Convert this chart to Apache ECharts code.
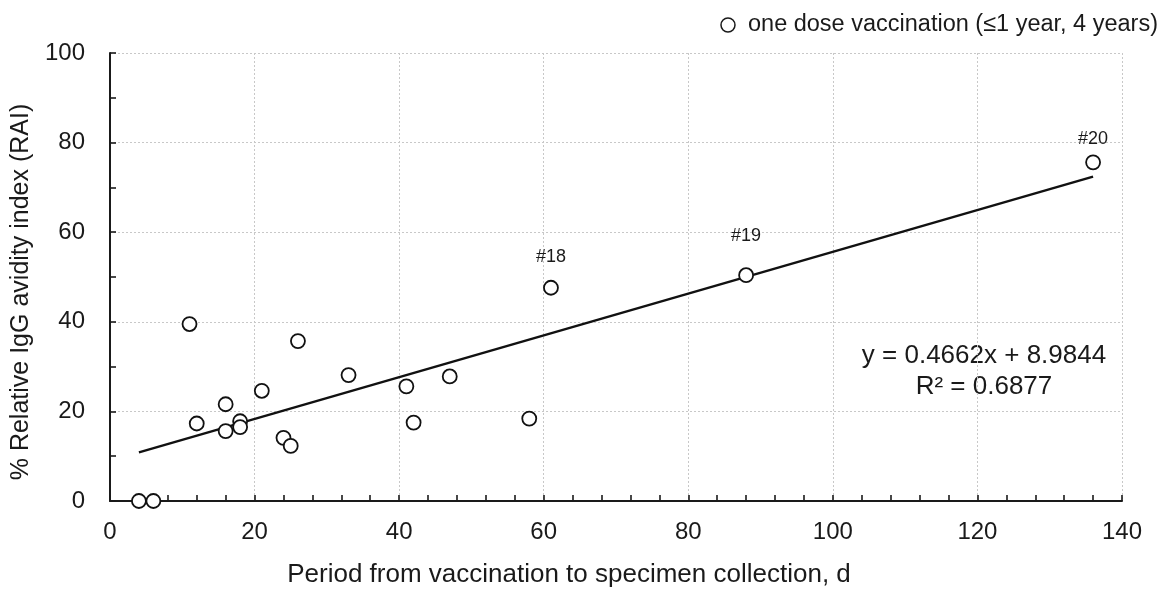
<!DOCTYPE html>
<html>
<head>
<meta charset="utf-8">
<script src="https://cdn.jsdelivr.net/npm/echarts@6/dist/echarts.min.js"></script>
<style>
html,body{margin:0;padding:0;background:#fff;}
#chart{width:1166px;height:598px;}
</style>
</head>
<body>
<div id="chart"></div>
<script>
// Data
const periodDays = [4, 6, 11, 12, 16, 16, 18, 18, 21, 24, 25, 26, 33, 41, 42, 47, 58, 61, 88, 136];
const raiValues  = [0, 0, 39.5, 17.3, 21.6, 15.6, 17.8, 16.5, 24.6, 14.1, 12.3, 35.7, 28.1, 25.6, 17.5, 27.8, 18.4, 47.6, 50.4, 75.6];
const pointLabels = ['', '', '', '', '', '', '', '', '', '', '', '', '', '', '', '', '', '#18', '#19', '#20'];
const trendX = [4, 136];
const trendY = [10.85, 72.39];
const xTicks = [0, 20, 40, 60, 80, 100, 120, 140];
const yTicks = [0, 20, 40, 60, 80, 100];
const seriesName = 'one dose vaccination (\u22641 year, 4 years)';
const equationText = 'y = 0.4662x + 8.9844';
const r2Text = 'R\u00b2 = 0.6877';

// Style only: label gaps above the annotated points
const labelGap = {'#18': 14, '#19': 22, '#20': 6};

const FONT = 'Liberation Sans, Arial, sans-serif';
const INK = '#1a1a1a';
const chart = echarts.init(document.getElementById('chart'), null, {renderer: 'canvas'});

const scatterData = periodDays.map((x, i) => {
  const item = {value: [x, raiValues[i]], name: pointLabels[i]};
  if (pointLabels[i]) item.label = {distance: labelGap[pointLabels[i]]};
  return item;
});

chart.setOption({
  animation: false,
  backgroundColor: '#fff',
  textStyle: {fontFamily: FONT, color: INK},
  grid: {left: 110, right: 44, top: 53, bottom: 97, containLabel: false},
  legend: {
    data: [seriesName],
    right: 3, top: 8,
    icon: 'circle',
    itemWidth: 14, itemHeight: 14,
    textStyle: {fontSize: 23.5, color: INK, fontFamily: FONT, padding: [0, 0, 0, 8]},
    itemStyle: {color: '#fff', borderColor: INK, borderWidth: 1.5}
  },
  xAxis: {
    type: 'value',
    min: xTicks[0], max: xTicks[xTicks.length - 1], interval: xTicks[1] - xTicks[0],
    name: 'Period from vaccination to specimen collection, d',
    nameLocation: 'middle', nameGap: 61,
    nameTextStyle: {fontSize: 26, color: INK, fontFamily: FONT, padding: [0, 94, 0, 0]},
    axisLine: {show: true, lineStyle: {color: INK, width: 2}},
    axisTick: {show: true, inside: true, length: 6, lineStyle: {color: INK, width: 1.6}},
    minorTick: {show: true, splitNumber: 5, length: 6, lineStyle: {color: INK, width: 1.6}},
    axisLabel: {fontSize: 24, color: INK, margin: 19, fontFamily: FONT},
    splitLine: {show: true, lineStyle: {color: '#c8c8c8', type: [2, 2], width: 1}}
  },
  yAxis: {
    type: 'value',
    min: yTicks[0], max: yTicks[yTicks.length - 1], interval: yTicks[1] - yTicks[0],
    name: '% Relative IgG avidity index (RAI)',
    nameLocation: 'middle', nameGap: 68, nameRotate: 90,
    nameTextStyle: {fontSize: 25, color: INK, fontFamily: FONT, padding: [0, 30, 0, 0]},
    axisLine: {show: true, lineStyle: {color: INK, width: 2}},
    axisTick: {show: true, inside: true, length: 6, lineStyle: {color: INK, width: 1.6}},
    minorTick: {show: true, splitNumber: 2, length: 6, lineStyle: {color: INK, width: 1.6}},
    axisLabel: {fontSize: 24, color: INK, margin: 25, fontFamily: FONT},
    splitLine: {show: true, lineStyle: {color: '#c8c8c8', type: [2, 2], width: 1}}
  },
  series: [
    {
      name: 'trend',
      type: 'line',
      data: trendX.map((x, i) => [x, trendY[i]]),
      showSymbol: false,
      symbol: 'none',
      lineStyle: {color: '#111', width: 2.4},
      z: 2,
      silent: true
    },
    {
      name: seriesName,
      type: 'scatter',
      data: scatterData,
      symbol: 'circle',
      symbolSize: 14,
      itemStyle: {color: '#fff', borderColor: '#111', borderWidth: 1.8, opacity: 1},
      label: {
        show: true,
        position: 'top',
        distance: 14,
        fontSize: 18,
        color: INK,
        fontFamily: FONT,
        formatter: p => p.name
      },
      z: 3
    }
  ],
  graphic: [
    {type: 'text', x: 984, y: 356, style: {text: equationText, fontSize: 26, fill: INK, fontFamily: FONT, align: 'center', verticalAlign: 'middle'}},
    {type: 'text', x: 984, y: 387, style: {text: r2Text, fontSize: 26, fill: INK, fontFamily: FONT, align: 'center', verticalAlign: 'middle'}}
  ]
});
</script>
</body>
</html>
